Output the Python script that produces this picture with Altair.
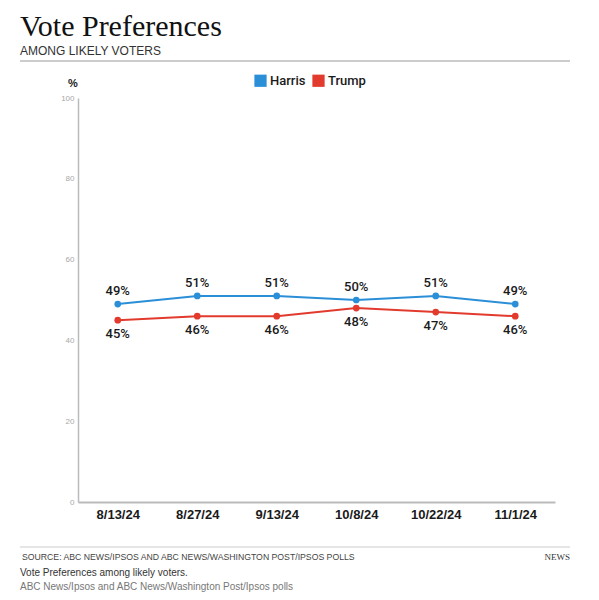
import pandas as pd
import altair as alt

# ---------- data ----------
dates = ["8/13/24", "8/27/24", "9/13/24", "10/8/24", "10/22/24", "11/1/24"]
harris = [49, 51, 51, 50, 51, 49]
trump = [45, 46, 46, 48, 47, 46]
candidates = ["Harris", "Trump"]
colors = ["#2b8fd8", "#e23b2e"]
y_ticks = [0, 20, 40, 60, 80, 100]

title_text = "Vote Preferences"
subtitle_text = "AMONG LIKELY VOTERS"
source_text = "SOURCE: ABC NEWS/IPSOS AND ABC NEWS/WASHINGTON POST/IPSOS POLLS"
caption_text = "Vote Preferences among likely voters."
credit_text = "ABC News/Ipsos and ABC News/Washington Post/Ipsos polls"

SANS = "Liberation Sans"
MED = "Roboto"

df = pd.DataFrame({
    "date": dates * 2,
    "candidate": ["Harris"] * len(dates) + ["Trump"] * len(dates),
    "value": harris + trump,
})
df["label"] = df["value"].astype(str) + "%"

W, H = 477, 404

x_enc = alt.X(
    "date:O", sort=dates, title=None,
    scale=alt.Scale(type="point", padding=0.5),
    axis=alt.Axis(domainColor="#bbbbbb", domainWidth=2, ticks=False, labelAngle=0,
                  labelFont=SANS, labelFontSize=13, labelFontWeight="bold",
                  labelColor="#1a1a1a", labelPadding=6, grid=False),
)
y_enc = alt.Y(
    "value:Q", title=None,
    scale=alt.Scale(domain=[0, 100], nice=False),
    axis=alt.Axis(values=y_ticks, domainColor="#bbbbbb", domainWidth=1.5, ticks=False,
                  labelFont=SANS, labelFontSize=8, labelColor="#a8a8a8",
                  labelPadding=4, grid=False),
)
color_enc = alt.Color(
    "candidate:N", title=None,
    scale=alt.Scale(domain=candidates, range=colors),
    legend=alt.Legend(orient="none", legendX=176, legendY=-24, direction="horizontal",
                      symbolType="square", symbolSize=150, symbolStrokeWidth=0,
                      symbolOpacity=1, labelFont=MED, labelFontSize=13,
                      labelFontWeight=500, labelColor="#1a1a1a", labelOffset=3,
                      columnPadding=6),
)

base = alt.Chart(df)

lines = base.mark_line(strokeWidth=2).encode(x=x_enc, y=y_enc, color=color_enc)
points = base.mark_circle(size=45, opacity=1).encode(x=x_enc, y=y_enc, color=color_enc)

labels_up = base.transform_filter(alt.datum.candidate == "Harris").mark_text(
    dy=-13, font=MED, fontSize=13, fontWeight=500, color="#1a1a1a"
).encode(x=x_enc, y=y_enc, text="label:N")
labels_down = base.transform_filter(alt.datum.candidate == "Trump").mark_text(
    dy=14, font=MED, fontSize=13, fontWeight=500, color="#1a1a1a"
).encode(x=x_enc, y=y_enc, text="label:N")


# ---------- header / footer text ----------
def note(text, x, y, size, color="#222222", font=SANS, weight="normal", align="left"):
    return alt.Chart(pd.DataFrame({"t": [text]})).mark_text(
        font=font, fontSize=size, color=color, fontWeight=weight,
        align=align, baseline="alphabetic"
    ).encode(x=alt.value(x), y=alt.value(y), text="t:N")


def hline(x1, x2, y, color):
    return alt.Chart(pd.DataFrame({"a": [0]})).mark_rule(color=color, strokeWidth=1).encode(
        x=alt.value(x1), x2=alt.value(x2), y=alt.value(y)
    )


title = note(title_text, -58, -62, 30, color="#111111", font="Liberation Serif")
subtitle = note(subtitle_text, -58, -43, 12, color="#333333")
top_rule = hline(-58, 492, -37, "#999999")
pct = note("%", -5, -11, 11, color="#222222", weight="bold", align="center")

foot_rule = hline(-58, 492, 449, "#cccccc")
source = note(source_text, -56, 462, 8.7, color="#444444")
caption = note(caption_text, -58, 478, 10, color="#333333")
credit = note(credit_text, -58, 492, 10, color="#777777")
news = note("NEWS", 492, 462, 9, color="#333333", font="Liberation Serif", align="right")

chart = alt.layer(
    lines, points, labels_up, labels_down,
    title, subtitle, top_rule, pct, foot_rule, source, caption, credit, news,
).properties(
    width=W, height=H,
    padding={"left": 70, "top": 90, "right": 36, "bottom": 90},
    autosize=alt.AutoSizeParams(type="none"),
).configure_view(stroke=None)

chart.save("out.html", embed_options={"renderer": "svg", "actions": False})
